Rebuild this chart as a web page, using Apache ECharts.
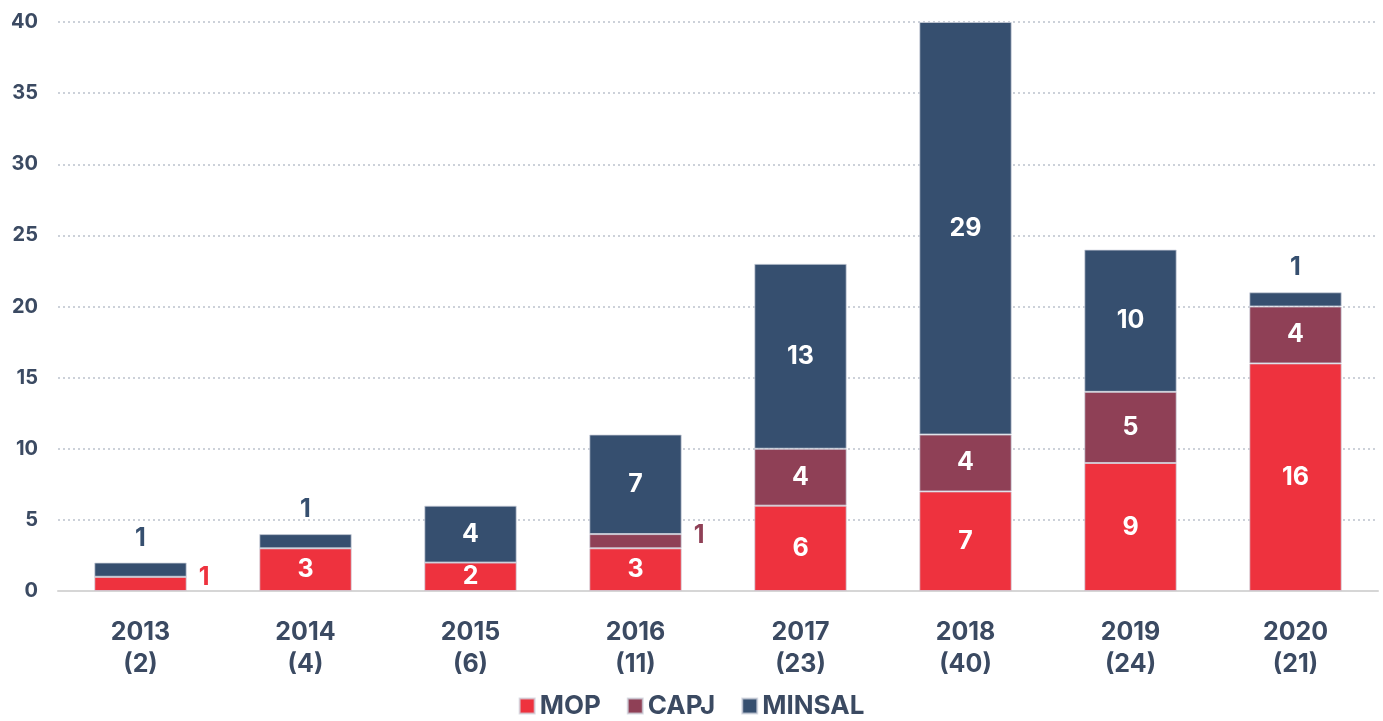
<!DOCTYPE html>
<html>
<head>
<meta charset="utf-8">
<script src="https://cdn.jsdelivr.net/npm/echarts@6/dist/echarts.min.js"></script>
<style>
  html, body { margin: 0; padding: 0; background: #fff; }
  #chart { width: 1383px; height: 721px; }
</style>
</head>
<body>
<div id="chart"></div>
<script>
// datos
var years = ["2013", "2014", "2015", "2016", "2017", "2018", "2019", "2020"];
var mop = [1, 3, 2, 3, 6, 7, 9, 16];
var capj = [0, 0, 0, 1, 4, 4, 5, 4];
var minsal = [1, 1, 4, 7, 13, 29, 10, 1];
var yTicks = [0, 5, 10, 15, 20, 25, 30, 35, 40];

var RED = "#ee323e";
var WINE = "#8f4056";
var NAVY = "#364f6f";
var TEXT = "#3b4a62";
var FONT = "Inter";

var chart = echarts.init(document.getElementById("chart"));

// etiquetas: valor 1 va fuera de la barra (arriba para la serie superior, a la derecha para las demas)
function buildData(values, color, isTop) {
  return values.map(function (v) {
    var item = { value: v };
    if (v === 1) {
      item.label = isTop
        ? { position: "top", distance: 12, color: NAVY }
        : { position: "right", distance: 12, offset: [0, -6], color: color };
    }
    return item;
  });
}

var totals = years.map(function (y, i) {
  return mop[i] + capj[i] + minsal[i];
});

var baseLabel = {
  show: true,
  position: "inside",
  color: "#fff",
  fontFamily: FONT,
  fontWeight: 700,
  fontSize: 25,
  formatter: function (p) {
    return p.value ? String(p.value) : "";
  },
};

function series(name, values, color, isTop) {
  return {
    name: name,
    type: "bar",
    stack: "total",
    barWidth: "56%",
    itemStyle: {
      color: color,
      borderColor: "rgba(205,210,220,0.75)",
      borderWidth: 1,
    },
    label: baseLabel,
    data: buildData(values, color, isTop),
  };
}

var option = {
  animation: false,
  color: [RED, WINE, NAVY],
  grid: { left: 58, right: 5, top: 22, bottom: 130 },
  legend: {
    bottom: -3,
    left: "center",
    itemWidth: 15,
    itemHeight: 15,
    itemGap: 26,
    icon: "rect",
    textStyle: { color: TEXT, fontFamily: FONT, fontWeight: 700, fontSize: 26 },
    data: ["MOP", "CAPJ", "MINSAL"],
  },
  xAxis: {
    type: "category",
    data: years,
    axisTick: { show: false },
    axisLine: { lineStyle: { color: "#d6d6d6", width: 2 } },
    axisLabel: {
      margin: 25,
      color: TEXT,
      fontFamily: FONT,
      fontWeight: 700,
      fontSize: 25,
      lineHeight: 32,
      formatter: function (v, i) {
        return v + "\n(" + totals[i] + ")";
      },
    },
  },
  yAxis: {
    type: "value",
    min: yTicks[0],
    max: yTicks[yTicks.length - 1],
    interval: yTicks[1] - yTicks[0],
    axisLine: { show: false },
    axisTick: { show: false },
    splitLine: { lineStyle: { color: "#bcc2cd", type: [2, 3], width: 1.5 } },
    axisLabel: {
      margin: 20,
      color: TEXT,
      fontFamily: FONT,
      fontWeight: 700,
      fontSize: 20,
    },
  },
  series: [
    series("MOP", mop, RED, false),
    series("CAPJ", capj, WINE, false),
    series("MINSAL", minsal, NAVY, true),
  ],
};

chart.setOption(option);
</script>
</body>
</html>
